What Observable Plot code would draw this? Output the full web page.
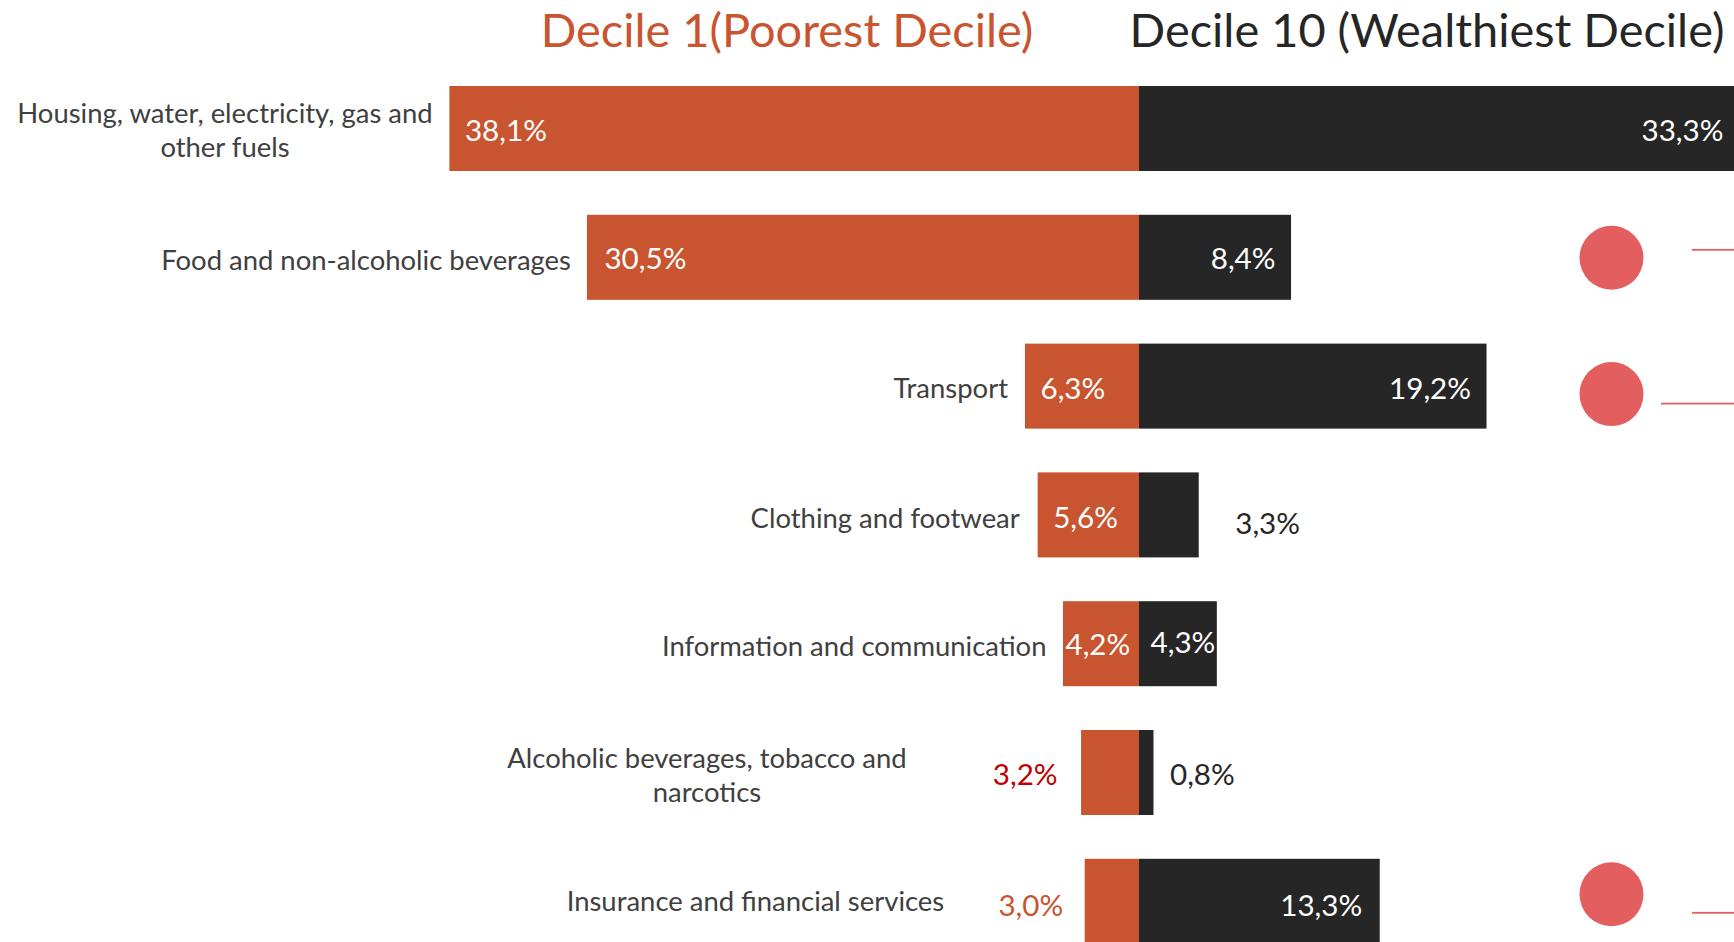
<!DOCTYPE html>
<html>
<head>
<meta charset="utf-8">
<script src="https://cdn.jsdelivr.net/npm/d3@7"></script>
<script src="https://cdn.jsdelivr.net/npm/@observablehq/plot@0.6"></script>
<style>
  html, body { margin: 0; padding: 0; background: #fff; overflow: hidden; width: 1734px; height: 942px; }
  #header { position: relative; height: 70px; width: 1734px; }
  #header div { position: absolute; top: 29px; transform: translate(-50%, -50%); white-space: nowrap; line-height: 1; }
  #chart svg { display: block; }
</style>
</head>
<body>
<div id="header"></div>
<div id="chart"></div>
<script>
// ---------- data ----------
const categories = [
  "Housing, water, electricity, gas and other fuels",
  "Food and non-alcoholic beverages",
  "Transport",
  "Clothing and footwear",
  "Information and communication",
  "Alcoholic beverages, tobacco and narcotics",
  "Insurance and financial services"
];
const categoryLabels = [
  "Housing, water, electricity, gas and\nother fuels",
  "Food and non-alcoholic beverages",
  "Transport",
  "Clothing and footwear",
  "Information and communication",
  "Alcoholic beverages, tobacco and\nnarcotics",
  "Insurance and financial services"
];
const decile1 = [38.1, 30.5, 6.3, 5.6, 4.2, 3.2, 3.0];
const decile10 = [33.3, 8.4, 19.2, 3.3, 4.3, 0.8, 13.3];
const seriesNames = ["Decile 1(Poorest Decile)", "Decile 10 (Wealthiest Decile)"];
const highlighted = ["Food and non-alcoholic beverages", "Transport", "Insurance and financial services"];

// ---------- styling / layout ----------
const FONT = "Lato, 'Open Sans', sans-serif";
const ORANGE = "#C8552F", DARK = "#262626", GREY = "#404040", RED = "#C00000", DOT = "#E35F5F";
const W = 1734, H = 872;
const zeroPx = 1139, pxPerPct = 18.1;
const xDomain = [-zeroPx / pxPerPct, (W - zeroPx) / pxPerPct];
const u = px => px / pxPerPct;

const ctx = document.createElement("canvas").getContext("2d");
function fit(str, target) {
  ctx.font = `100px ${FONT}`;
  return 100 * target / ctx.measureText(str).width;
}
function widthOf(str, size) {
  ctx.font = `${size}px ${FONT}`;
  return ctx.measureText(str).width;
}
const titleFs = fit(seriesNames[1], 595);
const valFs = fit("38,1%", 82);
const catFs = fit("Housing, water, electricity, gas and", 416);

// header titles
const header = document.getElementById("header");
[[seriesNames[0], 787, ORANGE], [seriesNames[1], 1427, DARK]].forEach(([t, cx, c]) => {
  const d = document.createElement("div");
  d.textContent = t;
  d.style.left = cx + "px";
  d.style.color = c;
  d.style.fontFamily = FONT;
  d.style.fontSize = titleFs + "px";
  header.appendChild(d);
});

const rows = categories.map((c, i) => ({cat: c, label: categoryLabels[i], d1: decile1[i], d10: decile10[i]}));
const fmt = v => v.toFixed(1).replace(".", ",") + "%";

// label placement rules (per row, by index)
const d1Spec = [
  {inside: true, pad: 15, dy: 3},
  {inside: true, pad: 17, dy: 2},
  {inside: true, pad: 15, dy: 3},
  {inside: true, pad: 15, dy: 3},
  {inside: true, pad: 2, dy: 1},
  {inside: false, pad: 24, dy: 3, fill: RED},
  {inside: false, pad: 22, dy: 5, fill: ORANGE}
];
const d10Spec = [
  {inside: true, pad: 11, dy: 3},
  {inside: true, pad: 16, dy: 2},
  {inside: true, pad: 16, dy: 3},
  {inside: false, pad: 36, dy: 9},
  {fromZero: true, pad: 11, dy: -1},
  {inside: false, pad: 16, dy: 3},
  {inside: true, pad: 18, dy: 5}
];
const catGap = [17, 16.5, 17.5, 18.4, 17, 175, 141];
const catDy = [0, 1.5, 0.5, 1.5, 0.5, 1, -1.5];

const marks = [];
marks.push(Plot.barX(rows, {y: "cat", x1: d => -d.d1, x2: () => 0, fill: ORANGE}));
marks.push(Plot.barX(rows, {y: "cat", x1: () => 0, x2: d => Math.min(d.d10, xDomain[1]), fill: DARK}));

rows.forEach((r, i) => {
  const s1 = d1Spec[i];
  marks.push(Plot.text([r], {
    y: "cat", x: d => -d.d1, text: d => fmt(d.d1),
    textAnchor: s1.inside ? "start" : "end",
    dx: s1.inside ? s1.pad : -s1.pad, dy: s1.dy,
    fill: s1.inside ? "#fff" : s1.fill,
    fontSize: valFs, fontFamily: FONT
  }));
  const s2 = d10Spec[i];
  let xAcc, anchor, dx, fill;
  if (s2.fromZero) { xAcc = () => 0; anchor = "start"; dx = s2.pad; fill = "#fff"; }
  else if (s2.inside) { xAcc = d => Math.min(d.d10, xDomain[1]); anchor = "end"; dx = -s2.pad; fill = "#fff"; }
  else { xAcc = d => d.d10; anchor = "start"; dx = s2.pad; fill = DARK; }
  marks.push(Plot.text([r], {
    y: "cat", x: xAcc, text: d => fmt(d.d10),
    textAnchor: anchor, dx, dy: s2.dy, fill,
    fontSize: valFs, fontFamily: FONT
  }));
  // category label
  const lines = r.label.split("\n");
  const multi = lines.length > 1;
  const w = Math.max(...lines.map(l => widthOf(l, catFs)));
  marks.push(Plot.text([r], {
    y: "cat", x: d => -d.d1, text: "label",
    textAnchor: multi ? "middle" : "end",
    dx: multi ? -(catGap[i] + w / 2) : -catGap[i],
    dy: catDy[i],
    lineHeight: 34 / catFs,
    fill: GREY, fontSize: catFs, fontFamily: FONT
  }));
});

// highlight markers (dots + connector stubs)
const dotX = u(1611 - zeroPx);
const markerSpec = [
  {dotDy: 0, lineDy: -7.5, start: 1692},
  {dotDy: 7.5, lineDy: 17.5, start: 1661},
  {dotDy: -7.5, lineDy: 11.5, start: 1692}
];
const bw = 85;
highlighted.forEach((c, k) => {
  const m = markerSpec[k];
  marks.push(Plot.dot([c], {y: d => d, x: () => dotX, r: 32, fill: DOT, dy: m.dotDy}));
  const top = bw / 2 + m.lineDy - 0.9;
  marks.push(Plot.barX([c], {
    y: d => d, x1: () => u(m.start - zeroPx), x2: () => xDomain[1],
    fill: DOT, insetTop: top, insetBottom: bw - top - 1.8
  }));
});

const chart = Plot.plot({
  width: W, height: H,
  marginLeft: 0, marginRight: 0, marginTop: 0, marginBottom: 0,
  x: {domain: xDomain, range: [0, W], axis: null},
  y: {type: "band", domain: categories, range: [16, 16 + 128.8 * 6.66], paddingInner: 0.34, paddingOuter: 0, round: false, axis: null},
  style: {background: "#fff", fontFamily: FONT, overflow: "hidden"},
  marks
});
document.getElementById("chart").appendChild(chart);
</script>
</body>
</html>
